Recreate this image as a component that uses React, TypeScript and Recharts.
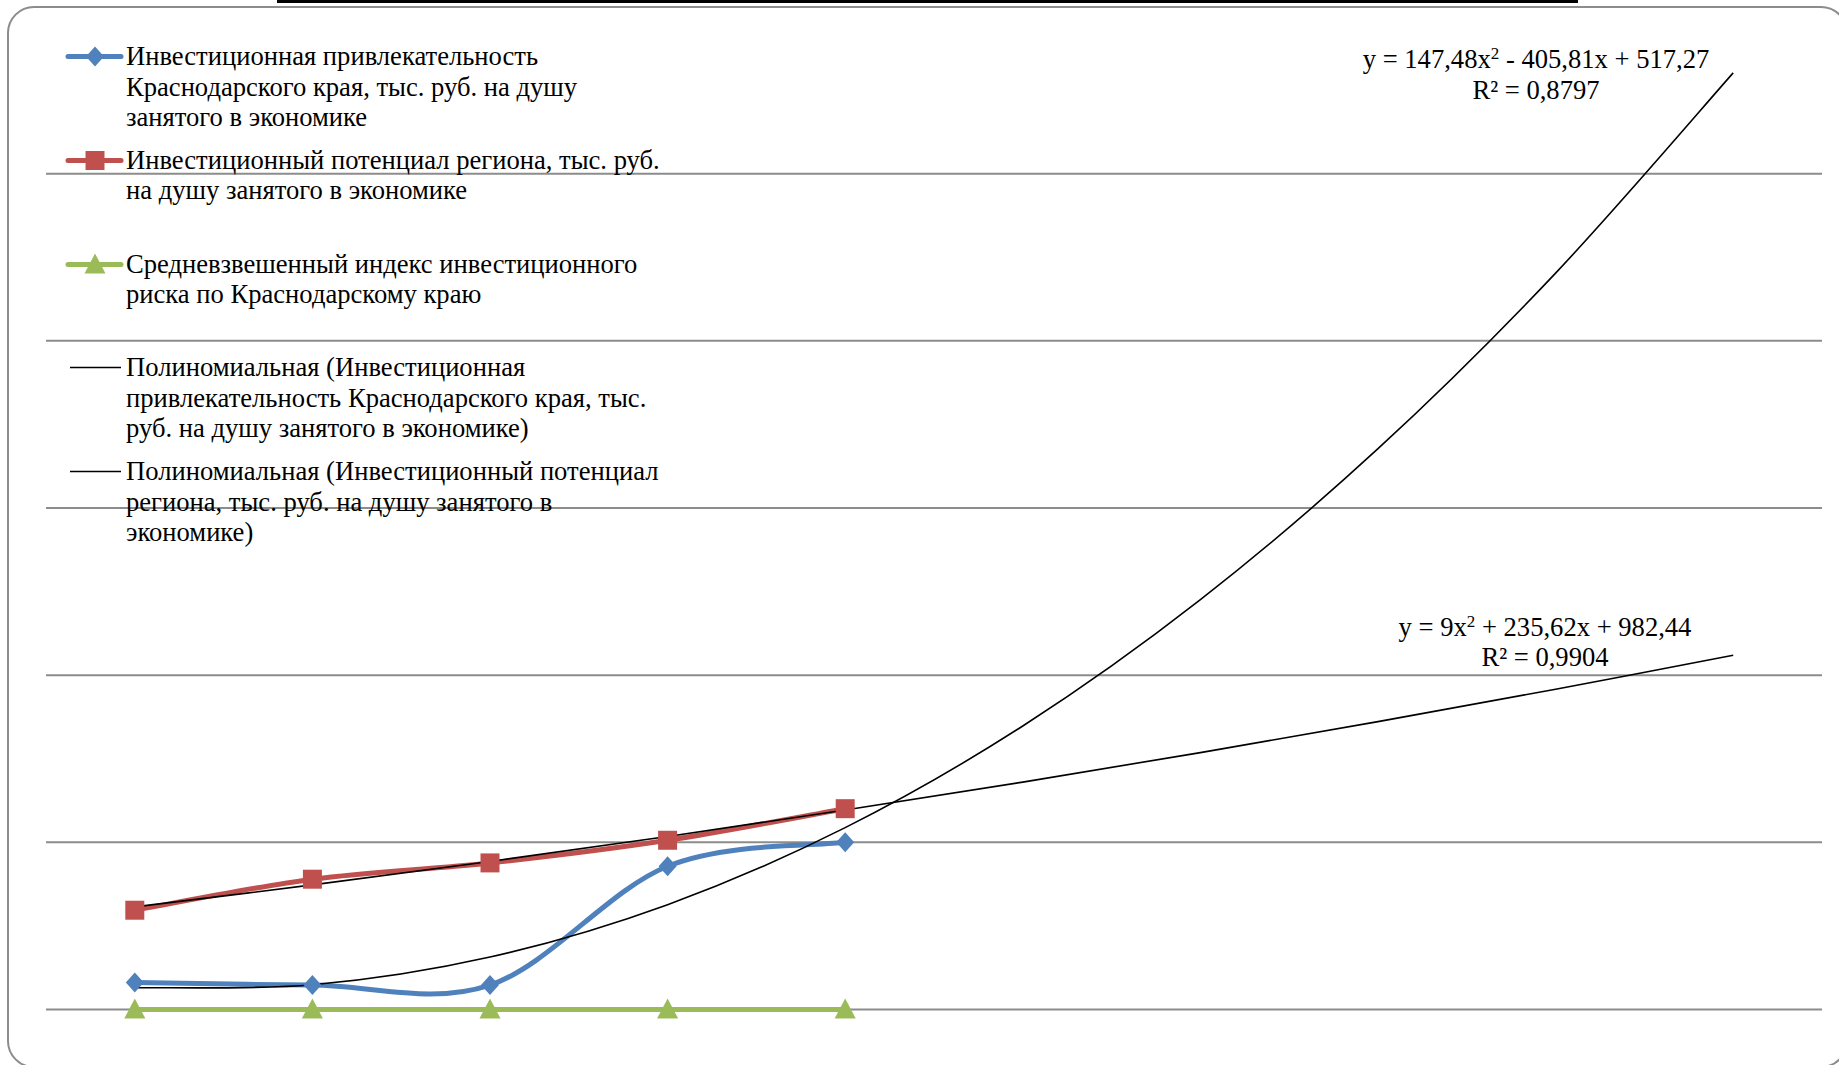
import React from 'react'
import { LineChart, Line, XAxis, YAxis, CartesianGrid } from 'recharts'

// periods 1..5 are actual data, 6..10 is the trend forecast
const periods = [1, 2, 3, 4, 5, 6, 7, 8, 9, 10]
const attractiveness = [323, 291, 291, 1713, 2000]
const potential = [1187, 1558, 1753, 2024, 2402]
const riskIndex = [0.2, 0.2, 0.2, 0.2, 0.2]

// polynomial trendline coefficients as printed on the chart (a, b, c)
const trendAttrCoef = [147.48, -405.81, 517.27]
const trendPotCoef = [9, 235.62, 982.44]

const yTicks = [0, 2000, 4000, 6000, 8000, 10000]

const legendItems = [
  { kind: 'diamond', color: '#4F81BD', lines: ['Инвестиционная привлекательность', 'Краснодарского края, тыс. руб. на душу', 'занятого в экономике'] },
  { kind: 'square', color: '#C0504D', lines: ['Инвестиционный потенциал региона, тыс. руб.', 'на душу занятого в экономике'] },
  { kind: 'triangle', color: '#9BBB59', lines: ['Средневзвешенный индекс инвестиционного', 'риска по Краснодарскому краю'] },
  { kind: 'trend', color: '#000', lines: ['Полиномиальная (Инвестиционная', 'привлекательность Краснодарского края, тыс.', 'руб. на душу занятого в экономике)'] },
  { kind: 'trend', color: '#000', lines: ['Полиномиальная (Инвестиционный потенциал', 'региона, тыс. руб. на душу занятого в', 'экономике)'] },
]

const poly = (c: number[], x: number) => c[0] * x * x + c[1] * x + c[2]

const data = periods.map((x, i) => ({
  x,
  attr: attractiveness[i] ?? null,
  pot: potential[i] ?? null,
  risk: riskIndex[i] ?? null,
  trendAttr: poly(trendAttrCoef, x),
  trendPot: poly(trendPotCoef, x),
}))

// Excel-like smoothed line (Catmull-Rom as cubic bezier)
function excelSmooth(context: any) {
  let pts: [number, number][] = []
  return {
    areaStart() {},
    areaEnd() {},
    lineStart() {
      pts = []
    },
    lineEnd() {
      if (!pts.length) return
      context.moveTo(pts[0][0], pts[0][1])
      for (let i = 0; i < pts.length - 1; i++) {
        const p0 = pts[Math.max(i - 1, 0)]
        const p1 = pts[i]
        const p2 = pts[i + 1]
        const p3 = pts[Math.min(i + 2, pts.length - 1)]
        context.bezierCurveTo(
          p1[0] + (p2[0] - p0[0]) / 6, p1[1] + (p2[1] - p0[1]) / 6,
          p2[0] - (p3[0] - p1[0]) / 6, p2[1] - (p3[1] - p1[1]) / 6,
          p2[0], p2[1]
        )
      }
    },
    point(x: number, y: number) {
      pts.push([x, y])
    },
  }
}

const markerPath = (kind: string, cx: number, cy: number) => {
  if (kind === 'diamond') return `M${cx},${cy - 10}L${cx + 9},${cy}L${cx},${cy + 10}L${cx - 9},${cy}Z`
  if (kind === 'square') return `M${cx - 9.5},${cy - 9.5}h19v19h-19Z`
  return `M${cx},${cy - 11}L${cx + 10.5},${cy + 9}L${cx - 10.5},${cy + 9}Z`
}

const makeDot = (kind: string, color: string) => (props: any) => {
  const { cx, cy, index, value } = props
  if (cx == null || cy == null || value == null) return <g key={`${kind}-${index}`} />
  return <path key={`${kind}-${index}`} d={markerPath(kind, cx, cy)} fill={color} />
}

const serif = '"Liberation Serif", "Times New Roman", serif'

function LegendBox() {
  return (
    <div style={{ position: 'absolute', left: 0, top: 0 }}>
      {legendItems.map((item, i) => {
        const top = 41 + i * 103.8
        return (
          <div key={i} style={{ position: 'absolute', top, left: 0 }}>
            <svg width={130} height={31} style={{ position: 'absolute', left: 0, top: 0 }}>
              {item.kind === 'trend' ? (
                <line x1={70} x2={121} y1={15.5} y2={15.5} stroke="#000" strokeWidth={1.5} />
              ) : (
                <>
                  <line x1={68} x2={121} y1={15.5} y2={15.5} stroke={item.color} strokeWidth={5} strokeLinecap="round" />
                  <path d={markerPath(item.kind, 95, 15.5)} fill={item.color} />
                </>
              )}
            </svg>
            <div
              style={{
                position: 'absolute',
                left: 126,
                top: 0,
                whiteSpace: 'nowrap',
                fontFamily: serif,
                fontSize: 26.6,
                lineHeight: '30.5px',
                color: '#000',
              }}
            >
              {item.lines.map((l, j) => (
                <div key={j}>{l}</div>
              ))}
            </div>
          </div>
        )
      })}
    </div>
  )
}

const eqStyle: React.CSSProperties = {
  position: 'absolute',
  width: 500,
  textAlign: 'center',
  fontFamily: serif,
  fontSize: 26.6,
  lineHeight: '30.5px',
  color: '#000',
  whiteSpace: 'nowrap',
}

const supStyle: React.CSSProperties = { fontSize: 17, verticalAlign: 9, lineHeight: 0 }

export default function App() {
  return (
    <div style={{ position: 'absolute', left: 0, top: 0, width: 1839, height: 1065, background: '#fff', overflow: 'hidden' }}>
      <div style={{ position: 'absolute', left: 277, top: 0, width: 1301, height: 2.5, background: '#000' }} />
      <svg width={1839} height={1065} style={{ position: 'absolute', left: 0, top: 0 }}>
        <rect x={8} y={7} width={1839} height={1060} rx={26} ry={26} fill="none" stroke="#8c8c8c" strokeWidth={2} />
      </svg>
      <div style={{ position: 'absolute', left: 0, top: 0 }}>
        <LineChart width={1839} height={1065} data={data} margin={{ top: 6.6, right: 17, bottom: 55.6, left: 46 }}>
          <CartesianGrid vertical={false} stroke="#8c8c8c" strokeWidth={2} horizontalValues={yTicks} />
          <XAxis dataKey="x" type="number" domain={[0.5, 10.5]} hide />
          <YAxis type="number" domain={[0, 12000]} ticks={yTicks} hide />
          <Line dataKey="attr" type={excelSmooth as any} stroke="#4F81BD" strokeWidth={5} dot={makeDot('diamond', '#4F81BD')} activeDot={false} isAnimationActive={false} />
          <Line dataKey="pot" type={excelSmooth as any} stroke="#C0504D" strokeWidth={5} dot={makeDot('square', '#C0504D')} activeDot={false} isAnimationActive={false} />
          <Line dataKey="risk" type={excelSmooth as any} stroke="#9BBB59" strokeWidth={5} dot={makeDot('triangle', '#9BBB59')} activeDot={false} isAnimationActive={false} />
          <Line dataKey="trendAttr" type={excelSmooth as any} stroke="#000" strokeWidth={1.6} dot={false} activeDot={false} isAnimationActive={false} />
          <Line dataKey="trendPot" type={excelSmooth as any} stroke="#000" strokeWidth={1.6} dot={false} activeDot={false} isAnimationActive={false} />
        </LineChart>
      </div>
      <LegendBox />
      <div style={{ ...eqStyle, left: 1536 - 250, top: 44 }}>
        <div>
          y = 147,48x<span style={supStyle}>2</span> - 405,81x + 517,27
        </div>
        <div>R² = 0,8797</div>
      </div>
      <div style={{ ...eqStyle, left: 1545 - 250, top: 611.5 }}>
        <div>
          y = 9x<span style={supStyle}>2</span> + 235,62x + 982,44
        </div>
        <div>R² = 0,9904</div>
      </div>
    </div>
  )
}
